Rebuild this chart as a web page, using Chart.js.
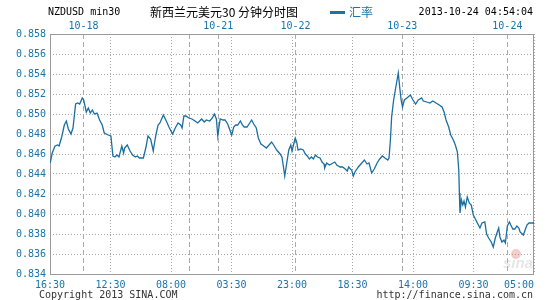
<!DOCTYPE html>
<html>
<head>
<meta charset="utf-8">
<script src="https://cdn.jsdelivr.net/npm/chart.js@4/dist/chart.umd.min.js"></script>
<style>
html,body{margin:0;padding:0;background:#fff;}
#wrap{width:545px;height:300px;position:relative;}
</style>
</head>
<body>
<div id="wrap"><canvas id="c" width="545" height="300"></canvas></div>
<script>
// ---- data ----
// x position of each sample in half-hour slot units along the (gap-free) trading axis
const slot = [0.1,1.1,2.5,3.8,4.5,5.8,7.1,8.1,9.1,10.4,11.4,12.7,13.7,14.7,16.0,16.7,18.0,19.0,20.0,21.0,22.0,23.3,24.6,25.9,26.9,28.9,30.2,31.2,32.2,33.2,34.2,35.6,36.5,37.0,38.3,39.7,41.0,42.3,43.3,44.3,46.3,47.6,48.6,49.9,51.2,51.9,52.6,53.6,54.5,56.2,57.9,59.2,60.8,62.1,63.5,64.8,65.5,66.4,67.4,68.8,70.4,71.9,73.2,74.2,75.2,76.5,77.5,79.2,80.5,81.5,82.5,83.2,83.8,84.4,85.8,86.8,88.1,90.1,91.1,92.1,93.1,94.4,95.4,96.3,97.7,98.7,100.0,101.0,102.3,103.3,104.6,106.0,107.3,108.6,109.9,110.9,112.4,114.1,115.0,115.7,116.4,117.4,118.4,119.4,120.0,121.0,121.6,122.3,123.0,124.3,125.6,126.6,127.6,128.6,129.6,130.6,131.6,132.6,133.9,134.9,135.9,136.2,137.2,138.5,139.5,141.2,142.2,143.8,145.1,146.4,147.4,148.1,149.0,149.6,150.4,151.2,152.9,154.6,155.9,157.2,158.2,159.5,160.8,162.2,163.5,164.8,166.1,167.5,168.1,168.8,169.4,170.4,171.4,172.1,172.7,173.4,174.1,174.8,175.7,177.0,178.7,180.0,181.3,182.6,184.3,185.1,186.8,188.4,189.8,191.4,193.0,194.4,195.4,196.4,197.7,198.7,200.0,201.0,202.0,202.7,203.0,203.3,204.0,204.7,205.3,206.0,206.9,207.9,208.9,209.9,210.9,211.9,213.2,214.2,215.6,216.5,217.5,218.8,219.8,220.8,221.8,222.5,223.1,224.1,225.1,225.8,226.8,227.8,228.5,229.5,230.5,231.5,232.5,233.1,234.7,236.5,237.5,240.0];
const rate = [0.8451,0.8461,0.8468,0.8469,0.8468,0.8477,0.8489,0.8493,0.8485,0.8480,0.8486,0.8510,0.8511,0.8510,0.8516,0.8514,0.8502,0.8506,0.8501,0.8504,0.8500,0.8501,0.8494,0.8489,0.8481,0.8479,0.8478,0.8458,0.8457,0.8459,0.8457,0.8468,0.8461,0.8466,0.8469,0.8463,0.8459,0.8457,0.8458,0.8456,0.8456,0.8467,0.8478,0.8475,0.8463,0.8472,0.8480,0.8489,0.8491,0.8499,0.8492,0.8486,0.8480,0.8486,0.8491,0.8489,0.8486,0.8498,0.8498,0.8496,0.8495,0.8493,0.8491,0.8493,0.8495,0.8492,0.8494,0.8493,0.8496,0.8500,0.8495,0.8478,0.8487,0.8495,0.8494,0.8494,0.8490,0.8479,0.8487,0.8489,0.8489,0.8493,0.8489,0.8487,0.8487,0.8490,0.8494,0.8490,0.8486,0.8476,0.8470,0.8468,0.8466,0.8469,0.8472,0.8469,0.8464,0.8460,0.8457,0.8448,0.8438,0.8451,0.8464,0.8469,0.8463,0.8471,0.8476,0.8472,0.8464,0.8465,0.8464,0.8460,0.8458,0.8455,0.8457,0.8455,0.8459,0.8457,0.8456,0.8452,0.8450,0.8446,0.8451,0.8449,0.8450,0.8452,0.8449,0.8447,0.8447,0.8445,0.8443,0.8447,0.8445,0.8444,0.8438,0.8442,0.8447,0.8451,0.8454,0.8450,0.8451,0.8441,0.8445,0.8451,0.8455,0.8458,0.8456,0.8454,0.8456,0.8474,0.8497,0.8514,0.8526,0.8534,0.8541,0.8527,0.8514,0.8507,0.8514,0.8516,0.8519,0.8514,0.8510,0.8514,0.8516,0.8513,0.8512,0.8511,0.8513,0.8511,0.8509,0.8507,0.8502,0.8494,0.8487,0.8479,0.8474,0.8469,0.8462,0.8444,0.8421,0.8401,0.8414,0.8409,0.8413,0.8407,0.8417,0.8411,0.8409,0.8399,0.8395,0.8391,0.8386,0.8391,0.8392,0.8380,0.8376,0.8372,0.8367,0.8376,0.8382,0.8386,0.8377,0.8372,0.8374,0.8371,0.8388,0.8392,0.8389,0.8385,0.8385,0.8388,0.8386,0.8382,0.8379,0.8389,0.8391,0.8391];

const timeTickSlots = [0,30,60,90,120,150,180,210,240];
const timeTickLabels = ['16:30','12:30','08:00','03:30','23:00','18:30','14:00','09:30','05:00'];
const daySlots = [16.6,69.1,83.4,121.7,174.7,226.8];
const dayLabels = ['10-18','','10-21','10-22','10-23','10-24'];
const yTicks = [0.834,0.836,0.838,0.840,0.842,0.844,0.846,0.848,0.850,0.852,0.854,0.856,0.858];

const symbolText = 'NZDUSD min30';
const titleText = '新西兰元美元30 分钟分时图';
const seriesName = '汇率';
const stampText = '2013-10-24 04:54:04';
const copyText = 'Copyright 2013 SINA.COM';
const urlText = 'http://finance.sina.com.cn';

// ---- styles ----
const BLUE = '#1c73a6';
const LINE = '#1a6ea0';
const MONO = '"DejaVu Sans Mono", "Liberation Mono", monospace';
const CJK = '"Noto Sans CJK SC", sans-serif';

const points = slot.map((x, i) => ({x: x, y: rate[i]})).filter(p => p.y !== undefined);

const frame = {
  id: 'frame',
  beforeDatasetsDraw(chart) {
    const {ctx, chartArea: a} = chart;
    ctx.save();
    ctx.strokeStyle = '#9a9a9a';
    ctx.lineWidth = 1;
    ctx.setLineDash([]);
    ctx.strokeRect(Math.round(a.left) + 0.5, Math.round(a.top) + 0.5,
                   Math.round(a.right - a.left) - 1, Math.round(a.bottom - a.top));
    // faint watermark
    ctx.globalAlpha = 0.35;
    ctx.fillStyle = '#e07070';
    ctx.beginPath();
    ctx.arc(516, 254, 5, 0, Math.PI * 2);
    ctx.fill();
    ctx.fillStyle = '#b8b8b8';
    ctx.font = 'italic bold 15px "Liberation Sans", sans-serif';
    ctx.textAlign = 'right';
    ctx.textBaseline = 'alphabetic';
    ctx.fillText('sina', 533, 268);
    ctx.restore();
  },
  afterDraw(chart) {
    const ctx = chart.ctx;
    ctx.save();
    ctx.textBaseline = 'middle';
    ctx.fillStyle = '#000';
    ctx.font = '10px ' + MONO;
    ctx.textAlign = 'left';
    ctx.fillText(symbolText, 48, 12);
    ctx.font = '12px ' + CJK;
    ctx.fillText(titleText, 150, 12);
    // legend
    ctx.fillStyle = BLUE;
    ctx.fillRect(330, 11, 15, 3);
    ctx.fillText(seriesName, 349, 12);
    ctx.fillStyle = '#000';
    ctx.font = '10px ' + MONO;
    ctx.textAlign = 'right';
    ctx.fillText(stampText, 533, 12);
    // footer
    ctx.fillStyle = '#333';
    ctx.textAlign = 'left';
    ctx.fillText(copyText, 39, 295);
    ctx.textAlign = 'right';
    ctx.fillText(urlText, 533, 295);
    ctx.restore();
  }
};

new Chart(document.getElementById('c'), {
  type: 'line',
  data: {
    datasets: [{
      label: seriesName,
      data: points,
      borderColor: LINE,
      borderWidth: 1.3,
      pointRadius: 0,
      fill: false,
      tension: 0
    }]
  },
  options: {
    responsive: false,
    animation: false,
    layout: {padding: {top: 18, right: 11, left: 0, bottom: 0}},
    plugins: {legend: {display: false}, title: {display: false}, tooltip: {enabled: false}},
    scales: {
      x: {
        type: 'linear', position: 'bottom', min: 0, max: 240,
        afterBuildTicks: s => { s.ticks = [{value: 0}].concat(timeTickSlots.map(v => ({value: v}))); },
        afterFit: s => { s.height = 26; s.paddingLeft = 0; s.paddingRight = 0; },
        ticks: {
          autoSkip: false, maxRotation: 0, align: 'inner', padding: 5,
          color: BLUE, font: {family: MONO, size: 10},
          callback: (v, i) => i === 0 ? '' : timeTickLabels[timeTickSlots.indexOf(v)]
        },
        grid: {color: '#a8a8a8', drawTicks: false},
        border: {display: false, dash: [1, 2]}
      },
      x2: {
        type: 'linear', position: 'top', min: 0, max: 240,
        afterBuildTicks: s => { s.ticks = daySlots.map(v => ({value: v})); },
        afterFit: s => { s.height = 16; s.paddingLeft = 0; s.paddingRight = 0; },
        ticks: {
          autoSkip: false, maxRotation: 0, padding: 2,
          color: BLUE, font: {family: MONO, size: 10},
          callback: (v, i) => dayLabels[i]
        },
        grid: {color: '#ababab', drawTicks: false},
        border: {display: false, dash: [5, 3]}
      },
      y: {
        type: 'linear', position: 'left', min: 0.834, max: 0.858,
        afterBuildTicks: s => { s.ticks = yTicks.map(v => ({value: v})); },
        afterFit: s => { s.width = 50; s.paddingTop = 0; s.paddingBottom = 0; },
        ticks: {
          autoSkip: false, padding: 4,
          color: BLUE, font: {family: MONO, size: 10},
          callback: v => v.toFixed(3)
        },
        grid: {color: '#a8a8a8', drawTicks: false},
        border: {display: false, dash: [1, 2]}
      }
    }
  },
  plugins: [frame]
});
</script>
</body>
</html>
